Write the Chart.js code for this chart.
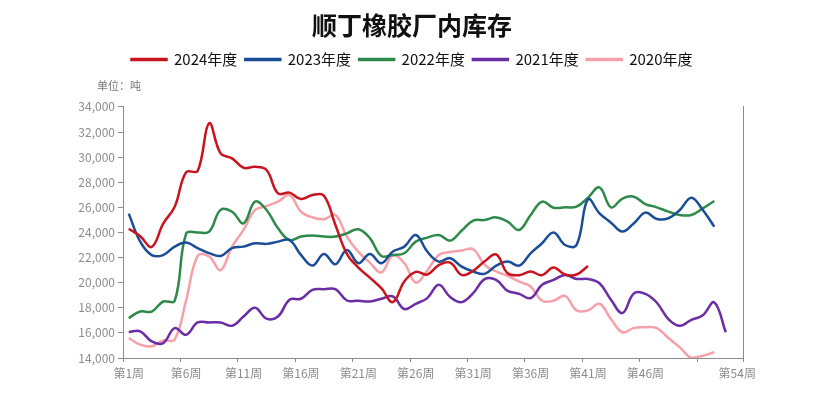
<!DOCTYPE html>
<html>
<head>
<meta charset="utf-8">
<title>顺丁橡胶厂内库存</title>
<script src="https://cdn.jsdelivr.net/npm/chart.js@4.4.1/dist/chart.umd.min.js"></script>
<style>
  html, body { margin: 0; padding: 0; background: #fff; }
  #wrap { width: 824px; height: 409px; }
</style>
</head>
<body>
<div id="wrap"><canvas id="inventario" width="824" height="409"></canvas></div>
<script>
(function(){
  const titulo = '顺丁橡胶厂内库存';
  const unidad = '单位：吨';

  // años (orden de la leyenda)
  const anios = ['2024年度', '2023年度', '2022年度', '2021年度', '2020年度'];
  const colores = ['#C8141E', '#1B4C96', '#2E8A4B', '#6A2DA3', '#F6A0AA'];

  // semanas: valores por semana, desde 第1周
  const s2024 = [24300, 23700, 22850, 24700, 26050, 28800, 28900, 32700, 30300, 29900,
                 29150, 29230, 28970, 27110, 27170, 26660, 26980, 26930, 24600, 22300,
                 21200, 20400, 19560, 18450, 20100, 20860, 20650, 21400, 21600, 20620,
                 20950, 21700, 22250, 20750, 20600, 20880, 20600, 21200, 20650, 20650,
                 21330];
  const s2023 = [25500, 23270, 22200, 22200, 22870, 23200, 22750, 22350, 22130, 22750,
                 22870, 23140, 23090, 23270, 23400, 22210, 21360, 22290, 21470, 22610,
                 21550, 22290, 21550, 22480, 22870, 23800, 22480, 21680, 21950, 21280,
                 20890, 20700, 21350, 21680, 21360, 22340, 23140, 23990, 23000, 23000,
                 26640, 25520, 24780, 24070, 24730, 25580, 25070, 25130, 25790, 26770,
                 25790, 24460];
  const s2022 = [17180, 17700, 17700, 18500, 18550, 23900, 24000, 24060, 25800, 25650,
                 24730, 26450, 25790, 24330, 23400, 23670, 23750, 23670, 23670, 23930,
                 24250, 23550, 22130, 22210, 22340, 23270, 23590, 23800, 23350, 24150,
                 24940, 24990, 25200, 24860, 24200, 25390, 26450, 25970, 26000, 26050,
                 26770, 27590, 26000, 26700, 26850, 26260, 26000, 25660, 25390, 25390,
                 25920, 26500];
  const s2021 = [16070, 16120, 15320, 15190, 16380, 15850, 16830, 16830, 16830, 16570,
                 17300, 18000, 17130, 17300, 18640, 18720, 19430, 19480, 19480, 18580,
                 18560, 18500, 18720, 18900, 17900, 18320, 18770, 19830, 18850, 18450,
                 19170, 20280, 20220, 19350, 19110, 18770, 19830, 20220, 20620, 20300,
                 20300, 19950, 18640, 17580, 19150, 19110, 18400, 17100, 16560, 17040,
                 17400, 18430, 16050];
  const s2020 = [15590, 15060, 14930, 15400, 15460, 18600, 22130, 22080, 21000, 22870,
                 24200, 25790, 26100, 26450, 26980, 25650, 25200, 25050, 25390, 23670,
                 22450, 21600, 20810, 22160, 21550, 20010, 20970, 22210, 22450, 22560,
                 22660, 21420, 20890, 20540, 20090, 19700, 18560, 18560, 18950, 17790,
                 17790, 18320, 17100, 16050, 16400, 16450, 16380, 15590, 14850, 14000,
                 14180, 14460];
  const valores = [s2024, s2023, s2022, s2021, s2020];

  // ejes
  const semanasEtiqueta = [1, 6, 11, 16, 21, 26, 31, 36, 41, 46, 54];
  const limitesSemana = [0.5, 5.5, 10.5, 15.5, 20.5, 25.5, 30.5, 35.5, 40.5, 45.5, 50.5, 54.5];
  const ticksY = [14000, 16000, 18000, 20000, 22000, 24000, 26000, 28000, 30000, 32000, 34000];

  const fuente = '"Noto Sans CJK SC", "Noto Sans", sans-serif';
  const gris = '#8c8c8c';
  Chart.defaults.font.family = fuente;

  const marcasX = semanasEtiqueta.concat(limitesSemana).sort((a, b) => a - b);

  // texto de unidad arriba del eje y
  const unidadPlugin = {
    id: 'unidad',
    afterDraw(chart){
      const {ctx, chartArea} = chart;
      ctx.save();
      ctx.font = '11px ' + fuente;
      ctx.fillStyle = '#777';
      ctx.textBaseline = 'middle';
      ctx.fillText(unidad, chartArea.left - 26, chartArea.top - 21);
      ctx.restore();
    }
  };

  const ctx = document.getElementById('inventario');

  new Chart(ctx, {
    type: 'line',
    data: {
      datasets: anios.map((anio, i) => ({
        label: anio,
        data: valores[i].map((v, j) => ({x: j + 1, y: v})),
        borderColor: colores[i],
        backgroundColor: colores[i],
        borderWidth: 2.5,
        pointRadius: 0,
        tension: 0.4,
        xAxisID: 'x',
        yAxisID: 'y'
      }))
    },
    plugins: [unidadPlugin],
    options: {
      responsive: false,
      animation: false,
      devicePixelRatio: 1,
      layout: { padding: 0 },
      plugins: {
        title: {
          display: true,
          text: titulo,
          color: '#111',
          font: { size: 25, weight: 'bold' },
          padding: { top: 10, bottom: 4 }
        },
        //espacio entre leyenda y grafico
        subtitle: {
          display: true,
          text: '',
          weight: 500,
          font: { size: 11 },
          padding: { top: 8, bottom: 8.7 }
        },
        legend: {
          position: 'top',
          labels: {
            boxWidth: 35,
            boxHeight: 1,
            padding: 8,
            color: '#111',
            font: { size: 15 }
          }
        },
        tooltip: { enabled: false }
      },
      scales: {
        x: {
          type: 'linear',
          min: 0.5,
          max: 54.5,
          afterBuildTicks: (scale) => { scale.ticks = marcasX.map(v => ({value: v})); },
          afterFit: (scale) => { scale.height = 51; },
          grid: {
            drawOnChartArea: false,
            tickLength: 4,
            tickColor: (c) => (c.tick && Number.isInteger(c.tick.value)) ? 'rgba(0,0,0,0)' : gris
          },
          border: { color: gris },
          ticks: {
            autoSkip: false,
            maxRotation: 0,
            padding: 4,
            color: gris,
            font: { size: 12 },
            callback: (v) => Number.isInteger(v) ? '第' + v + '周' : ''
          }
        },
        y: {
          min: 14000,
          max: 34000,
          afterBuildTicks: (scale) => { scale.ticks = ticksY.map(v => ({value: v})); },
          afterFit: (scale) => { scale.width = 123; },
          grid: { drawOnChartArea: false, tickLength: 5, tickColor: gris },
          border: { color: gris },
          ticks: {
            padding: 3,
            color: gris,
            font: { size: 12 },
            callback: (v) => v.toLocaleString('en-US')
          }
        },
        y2: {
          position: 'right',
          min: 14000,
          max: 34000,
          afterFit: (scale) => { scale.width = 81; },
          grid: { display: false, drawTicks: false },
          border: { color: gris },
          ticks: { display: false }
        }
      }
    }
  });
})();
</script>
</body>
</html>
